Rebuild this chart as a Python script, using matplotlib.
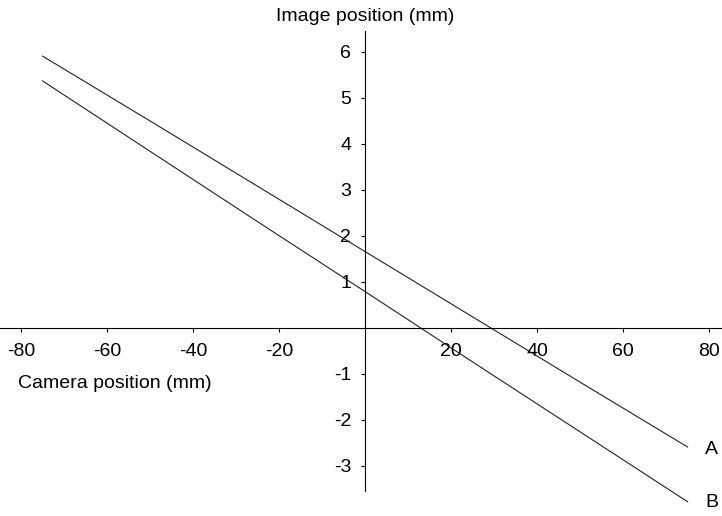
import matplotlib
matplotlib.use('Agg')
import matplotlib.pyplot as plt
import numpy as np

plt.rcParams['font.family'] = ['Liberation Sans', 'DejaVu Sans']

# camera position (mm) vs image position (mm)
camera_x = [-75, -50, -25, 0, 25, 50, 75]
image_a = [5.91, 4.50, 3.08, 1.66, 0.24, -1.18, -2.59]
image_b = [5.37, 3.84, 2.31, 0.79, -0.74, -2.26, -3.78]

xticks = [-80, -60, -40, -20, 20, 40, 60, 80]
yticks = [-3, -2, -1, 1, 2, 3, 4, 5, 6]

fig = plt.figure(figsize=(7.22, 5.16), dpi=100)
ax = fig.add_axes([0, 0, 1, 1])

ax.plot(camera_x, image_a, color='#222222', lw=0.8)
ax.plot(camera_x, image_b, color='#222222', lw=0.8)

ax.set_xlim(-84.9, 83.0)
ax.set_ylim(-4.09, 7.13)

# axes through the origin
for s in ['top', 'right']:
    ax.spines[s].set_visible(False)
ax.spines['left'].set_position(('data', 0))
ax.spines['bottom'].set_position(('data', 0))
ax.spines['left'].set_bounds(-3.55, 6.45)
ax.spines['left'].set_linewidth(0.8)
ax.spines['bottom'].set_linewidth(0.8)

ax.set_xticks(xticks)
ax.set_xticklabels([str(v) for v in xticks])
ax.set_yticks(yticks)
ax.set_yticklabels([str(v) for v in yticks])
ax.tick_params(axis='x', direction='out', length=3, width=0.8, pad=8, labelsize=14)
ax.tick_params(axis='y', direction='out', length=3, width=0.8, pad=7, labelsize=14)

ax.text(0, 6.78, 'Image position (mm)', ha='center', va='center', fontsize=14)
ax.text(-80.7, -1.2, 'Camera position (mm)', ha='left', va='center', fontsize=14)
ax.text(79.1, -2.65, 'A', ha='left', va='center', fontsize=14)
ax.text(79.1, -3.8, 'B', ha='left', va='center', fontsize=14)

fig.savefig('out.png', dpi=100)
